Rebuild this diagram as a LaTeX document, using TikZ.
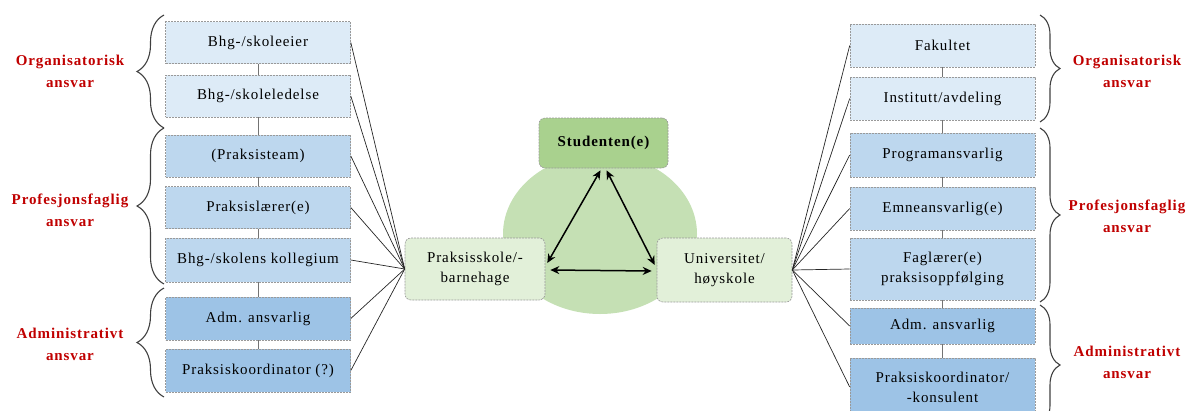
\documentclass[tikz,border=0pt]{standalone}
\usepackage{fontspec}
\setmainfont{Liberation Serif}[LetterSpace=6]
\usetikzlibrary{decorations.pathreplacing,calc,arrows.meta}
\definecolor{bl1}{HTML}{DDEBF7}
\definecolor{bl2}{HTML}{BDD7EE}
\definecolor{bl3}{HTML}{9DC3E6}
\definecolor{gr1}{HTML}{A9D18E}
\definecolor{gr2}{HTML}{C5E0B4}
\definecolor{gr3}{HTML}{E2F0D9}
\definecolor{lred}{HTML}{C00000}
\definecolor{brc}{HTML}{404040}
\begin{document}
\begin{tikzpicture}[x=1pt,y=-1pt,
  font=\fontsize{15}{20}\selectfont,
  box/.style={rectangle,draw=gray!80,dash pattern=on 2pt off 1pt,line width=0.6pt,minimum width=185pt,minimum height=42pt,inner sep=1pt,align=center,text=black},
  gbox/.style={rectangle,rounded corners=6pt,draw=gray!80,dash pattern=on 2pt off 1pt,line width=0.6pt,align=center,inner sep=1pt},
  link/.style={draw=black!85,line width=0.7pt},
  vlink/.style={draw=gray!90!black,line width=1pt},
  brlab/.style={text=lred,font=\fontsize{15}{22}\selectfont\bfseries,align=center},
  bracel/.style={draw=brc,line width=1.1pt,decorate,decoration={brace,amplitude=27pt}},
  bracer/.style={draw=brc,line width=1.1pt,decorate,decoration={brace,amplitude=20pt}},
  arr/.style={draw=black,line width=1.5pt,{Stealth[length=9pt,width=8pt]}-{Stealth[length=9pt,width=8pt]}}
]
\useasboundingbox (0,0) rectangle (1190,410);

% centre
\fill[gr2] (600,234) ellipse [x radius=97, y radius=80];
\node[gbox,fill=gr1,minimum width=129pt,minimum height=50pt,font=\fontsize{15}{20}\selectfont\bfseries] (stud) at (603.5,143) {Studenten(e)};
\node[gbox,fill=gr3,minimum width=140pt,minimum height=62pt] (prak) at (475,269) {Praksisskole/-\\barnehage};
\node[gbox,fill=gr3,minimum width=135pt,minimum height=64pt] (univ) at (724.5,270) {Universitet/\\høyskole};

\draw[arr] ($(stud.south)+(-3,2)$) -- ($(prak.east)+(2,-6)$);
\draw[arr] ($(stud.south)+(3,2)$) -- ($(univ.west)+(-2,-5)$);
\draw[arr] ($(prak.east)+(5,1)$) -- ($(univ.west)+(-5,1)$);

% left column
\node[box,fill=bl1] (l1) at (258,42.5) {Bhg-/skoleeier};
\node[box,fill=bl1] (l2) at (258,96) {Bhg-/skoleledelse};
\node[box,fill=bl2] (l3) at (258,156) {(Praksisteam)};
\node[box,fill=bl2] (l4) at (258,207.5) {Praksislærer(e)};
\node[box,fill=bl2,minimum height=44pt] (l5) at (258,260) {Bhg-/skolens kollegium};
\node[box,fill=bl3,minimum height=43pt] (l6) at (258,318.5) {Adm. ansvarlig};
\node[box,fill=bl3,minimum height=43pt] (l7) at (258,370.5) {Praksiskoordinator (?)};
\foreach \a/\b in {l1/l2,l2/l3,l3/l4,l4/l5,l5/l6,l6/l7} \draw[vlink] (\a.south) -- (\b.north);
\foreach \n in {l1,l2,l3,l4,l5,l6,l7} \draw[link] (\n.east) -- (prak.west);

% right column
\node[box,fill=bl1,minimum height=43pt] (r1) at (942.5,45.5) {Fakultet};
\node[box,fill=bl1,minimum height=43pt] (r2) at (942.5,98.5) {Institutt/avdeling};
\node[box,fill=bl2,minimum height=44pt] (r3) at (942.5,155) {Programansvarlig};
\node[box,fill=bl2,minimum height=43pt] (r4) at (942.5,208.5) {Emneansvarlig(e)};
\node[box,fill=bl2,minimum height=62pt] (r5) at (942.5,269) {Faglærer(e)\\praksisoppfølging};
\node[box,fill=bl3,minimum height=36pt] (r6) at (942.5,326) {Adm. ansvarlig};
\node[box,fill=bl3,minimum height=58pt] (r7) at (942.5,387) {Praksiskoordinator/\\-konsulent};
\foreach \a/\b in {r1/r2,r2/r3,r3/r4,r4/r5,r5/r6,r6/r7} \draw[vlink] (\a.south) -- (\b.north);
\foreach \n in {r1,r2,r3,r4,r5,r6,r7} \draw[link] (univ.east) -- (\n.west);

% braces left
\coordinate (lb1a) at (164,128); \coordinate (lb1b) at (164,15);
\coordinate (lb2a) at (164,284); \coordinate (lb2b) at (164,128);
\coordinate (lb3a) at (164,397); \coordinate (lb3b) at (164,288);
\draw[bracel] (lb1a) -- (lb1b);
\draw[bracel] (lb2a) -- (lb2b);
\draw[bracel] (lb3a) -- (lb3b);
\node[brlab] (ll1) at (70,71) {Organisatorisk\\ansvar};
\node[brlab] (ll2) at (70,210) {Profesjonsfaglig\\ansvar};
\node[brlab] (ll3) at (70,344) {Administrativt\\ansvar};

% braces right
\coordinate (rb1a) at (1040,15); \coordinate (rb1b) at (1040,122);
\coordinate (rb2a) at (1040,128); \coordinate (rb2b) at (1040,302);
\coordinate (rb3a) at (1040,305); \coordinate (rb3b) at (1040,425);
\draw[bracer] (rb1a) -- (rb1b);
\draw[bracer] (rb2a) -- (rb2b);
\draw[bracer] (rb3a) -- (rb3b);
\node[brlab] (rl1) at (1127,71) {Organisatorisk\\ansvar};
\node[brlab] (rl2) at (1127,216) {Profesjonsfaglig\\ansvar};
\node[brlab] (rl3) at (1127,362) {Administrativt\\ansvar};
\end{tikzpicture}
\end{document}
